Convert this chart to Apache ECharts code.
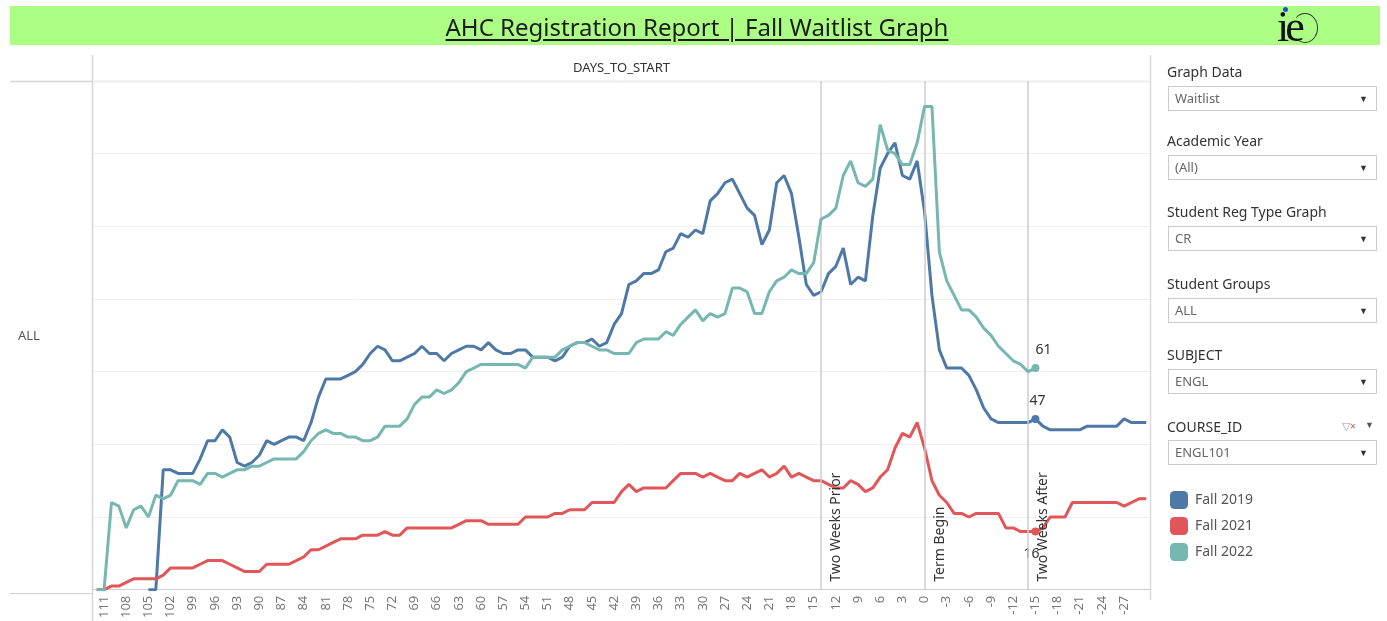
<!DOCTYPE html>
<html lang="en">
<head>
    <meta charset="utf-8">
    <title>AHC Registration Report | Fall Waitlist Graph</title>
    <script src="https://cdn.jsdelivr.net/npm/echarts@6.0.0/dist/echarts.min.js"></script>
    <style type="text/css">
        html, body { margin: 0; padding: 0; background: #fff; }
        body { width: 1387px; height: 621px; position: relative; overflow: hidden;
               font-family: "Noto Sans", "Open Sans", sans-serif; }
        #container { position: absolute; left: 0; top: 0; width: 1387px; height: 621px; }
        .banner { position: absolute; left: 10px; top: 6px; width: 1370px; height: 39px; background: #abfd84; }
        .banner .ttl { position: absolute; left: 0; top: 0; width: 1374px; text-align: center;
                       line-height: 42px; font-size: 24px; color: #1c1c1c; text-decoration: underline;
                       text-underline-offset: 3px; }
        .logo { position: absolute; left: 1277px; top: 5px; font-family: "Liberation Serif", "DejaVu Serif", serif;
                font-size: 44px; line-height: 44px; color: #111; letter-spacing: -4px; }
        .logo-ring { position: absolute; left: 1292px; top: 13px; width: 26px; height: 30px; border-radius: 50%;
                     border: 1.5px solid #333; border-left-color: transparent; box-sizing: border-box; }
        .logo-dot { position: absolute; left: 1283px; top: 7px; width: 5px; height: 5px; border-radius: 50%; background: #1e4fd8; }
        .flt-label { position: absolute; left: 1167px; font-size: 14px; line-height: 20px; color: #333; }
        .flt-box { position: absolute; left: 1168px; width: 209px; height: 25px; border: 1px solid #cacaca;
                   box-sizing: border-box; font-size: 13px; line-height: 23px; color: #666; padding-left: 6px; }
        .flt-box span { position: absolute; right: 8px; top: 0; font-size: 9px; color: #333; }
        .flt-icon { position: absolute; left: 1342px; top: 418px; font-size: 11px; color: #999; }
        .flt-icon b { color: #e0483c; font-weight: normal; font-size: 10px; }
        .flt-caret { position: absolute; left: 1365px; top: 418px; font-size: 9px; color: #555; }
    </style>
</head>
<body>
<div id="container"></div>

<div class="banner"><div class="ttl">AHC Registration Report | Fall Waitlist Graph</div></div>
<div class="logo">ie</div>
<div class="logo-ring"></div>
<div class="logo-dot"></div>

<div class="flt-label" style="top:62px;">Graph Data</div>
<div class="flt-box" style="top:86px;">Waitlist<span>&#9660;</span></div>
<div class="flt-label" style="top:131px;">Academic Year</div>
<div class="flt-box" style="top:155px;">(All)<span>&#9660;</span></div>
<div class="flt-label" style="top:202px;">Student Reg Type Graph</div>
<div class="flt-box" style="top:226px;">CR<span>&#9660;</span></div>
<div class="flt-label" style="top:274px;">Student Groups</div>
<div class="flt-box" style="top:298px;">ALL<span>&#9660;</span></div>
<div class="flt-label" style="top:345px;">SUBJECT</div>
<div class="flt-box" style="top:369px;">ENGL<span>&#9660;</span></div>
<div class="flt-label" style="top:417px;">COURSE_ID</div>
<div class="flt-icon">&#9661;<b>&#215;</b></div>
<div class="flt-caret">&#9660;</div>
<div class="flt-box" style="top:440px;">ENGL101<span>&#9660;</span></div>

<script>
    // days to start, 112 down to -30
    var days = [];
    for (var d = 112; d >= -30; d--) days.push(String(d));

    var seriesNames = ['Fall 2019', 'Fall 2021', 'Fall 2022'];
    var seriesColors = ['#4e79a7', '#e15759', '#76b7b2'];

    // Fall 2019 : no data before day 105
    var fall2019 = [null, null, null, null, null, null, null,
        0, 0, 33, 33, 32, 32, 32, 36, 41, 41,
        44, 42, 35, 34, 35, 37, 41, 40, 41, 42,
        42, 41, 46, 53, 58, 58, 58, 59, 60, 62,
        65, 67, 66, 63, 63, 64, 65, 67, 65, 65,
        63, 65, 66, 67, 67, 66, 68, 66, 65, 65,
        66, 66, 64, 64, 64, 63, 64, 67, 68, 68,
        69, 67, 68, 73, 76, 84, 85, 87, 87, 88,
        93, 94, 98, 97, 99, 98, 107, 109, 112, 113,
        109, 105, 103, 95, 99, 112, 114, 109, 97, 84,
        81, 82, 87, 89, 94, 84, 86, 85, 103, 116,
        120, 123, 114, 113, 118, 104, 81, 66, 61, 61,
        61, 59, 55, 50, 47, 46, 46, 46, 46, 46,
        47, 45, 44, 44, 44, 44, 44, 45, 45, 45,
        45, 45, 47, 46, 46, 46];

    var fall2021 = [0, 0, 1, 1, 2, 3, 3, 3, 3, 4,
        6, 6, 6, 6, 7, 8, 8, 8, 7, 6,
        5, 5, 5, 7, 7, 7, 7, 8, 9, 11,
        11, 12, 13, 14, 14, 14, 15, 15, 15, 16,
        15, 15, 17, 17, 17, 17, 17, 17, 17, 18,
        19, 19, 19, 18, 18, 18, 18, 18, 20, 20,
        20, 20, 21, 21, 22, 22, 22, 24, 24, 24,
        24, 27, 29, 27, 28, 28, 28, 28, 30, 32,
        32, 32, 31, 32, 31, 30, 30, 32, 31, 32,
        33, 31, 32, 34, 31, 32, 31, 30, 30, 29,
        28, 28, 30, 29, 27, 28, 31, 33, 39, 43,
        42, 46, 39, 30, 26, 24, 21, 21, 20, 21,
        21, 21, 21, 17, 17, 16, 16, 16, 17, 20,
        20, 20, 24, 24, 24, 24, 24, 24, 24, 23,
        24, 25, 25];

    // Fall 2022 : data only up to day -15
    var fall2022 = [0, 0, 24, 23, 17, 22, 23, 20, 26, 25,
        26, 30, 30, 30, 29, 32, 32, 31, 32, 33,
        33, 34, 34, 35, 36, 36, 36, 36, 38, 41,
        43, 44, 43, 43, 42, 42, 41, 41, 42, 45,
        45, 45, 47, 51, 53, 53, 55, 54, 55, 57,
        60, 61, 62, 62, 62, 62, 62, 62, 61, 64,
        64, 64, 64, 66, 67, 68, 68, 67, 66, 66,
        65, 65, 65, 68, 69, 69, 69, 71, 70, 73,
        75, 77, 74, 76, 75, 76, 83, 83, 82, 76,
        76, 82, 85, 86, 88, 87, 87, 90, 102, 103,
        105, 114, 118, 112, 111, 113, 128, 121, 120, 117,
        117, 123, 133, 133, 93, 85, 81, 77, 77, 75,
        72, 70, 67, 65, 63, 62, 60, 61,
        null, null, null, null, null, null, null, null, null, null, null, null, null, null, null];

    var refDays = ['14', '0', '-14'];
    var refLabels = ['Two Weeks Prior', 'Term Begin', 'Two Weeks After'];
    var markedDay = '-15';
    var lastLabelledDay = -27;

    var dom = document.getElementById("container");
    var myChart = echarts.init(dom);

    // only the day -15 point gets a marker and a value label
    function withMark(arr, labelPos, labelOffset) {
        var k = days.indexOf(markedDay);
        return arr.map(function (v, i) {
            if (i !== k) return v;
            return {
                value: v,
                symbol: 'circle',
                symbolSize: 8,
                label: { show: true, position: labelPos, offset: labelOffset,
                         color: '#333', fontSize: 14, fontFamily: 'Noto Sans' }
            };
        });
    }

    var allData = [
        withMark(fall2019, 'top', [2, -2]),
        withMark(fall2021, 'bottom', [-4, 6]),
        withMark(fall2022, 'top', [8, -2])
    ];

    var series = seriesNames.map(function (name, i) {
        return {
            name: name,
            type: 'line',
            data: allData[i],
            symbol: 'none',
            showAllSymbol: true,
            connectNulls: false,
            lineStyle: { width: 3, color: seriesColors[i] },
            itemStyle: { color: seriesColors[i] },
            emphasis: { disabled: true },
            z: 3 + i
        };
    });

    series[0].markLine = {
        silent: true,
        symbol: ['none', 'none'],
        lineStyle: { color: '#cdcdcd', width: 1.5, type: 'solid' },
        label: {
            show: true,
            position: 'insideStartBottom',
            formatter: function (p) { return p.name; },
            color: '#333',
            fontSize: 14,
            fontFamily: 'Noto Sans',
            distance: [8, 8]
        },
        data: refDays.map(function (d, i) {
            return { name: refLabels[i], xAxis: d };
        })
    };

    var option = {
        animation: false,
        textStyle: { fontFamily: 'Noto Sans' },
        legend: {
            data: seriesNames,
            orient: 'vertical',
            left: 1170,
            top: 491,
            padding: 0,
            itemWidth: 18,
            itemHeight: 18,
            itemGap: 8,
            icon: 'roundRect',
            textStyle: { color: '#555', fontSize: 14, padding: [0, 0, 0, 2] }
        },
        grid: { left: 93, right: 237, top: 81, bottom: 28, containLabel: false },
        xAxis: {
            type: 'category',
            data: days,
            boundaryGap: true,
            axisLine: { lineStyle: { color: '#d0d0d0', width: 1 } },
            axisTick: { show: false },
            axisLabel: {
                rotate: 90,
                color: '#777',
                fontSize: 13,
                margin: 6,
                interval: function (idx, val) {
                    var n = Number(val);
                    return n % 3 === 0 && n >= lastLabelledDay;
                }
            },
            splitLine: { show: false }
        },
        yAxis: {
            type: 'value',
            min: 0,
            max: 140,
            interval: 20,
            axisLabel: { show: false },
            axisLine: { show: false },
            axisTick: { show: false },
            splitLine: { lineStyle: { color: '#efefef', width: 1 } }
        },
        graphic: [
            { type: 'line', shape: { x1: 10, y1: 81.5, x2: 1150, y2: 81.5 }, style: { stroke: '#d6d6d6', lineWidth: 1.5 }, silent: true },
            { type: 'line', shape: { x1: 10, y1: 593.5, x2: 93, y2: 593.5 }, style: { stroke: '#d0d0d0', lineWidth: 1 }, silent: true },
            { type: 'line', shape: { x1: 92.5, y1: 55, x2: 92.5, y2: 621 }, style: { stroke: '#d6d6d6', lineWidth: 1.5 }, silent: true },
            { type: 'line', shape: { x1: 1150.5, y1: 55, x2: 1150.5, y2: 600 }, style: { stroke: '#dcdcdc', lineWidth: 1.5 }, silent: true },
            { type: 'text', left: 573, top: 62, style: { text: 'DAYS_TO_START', fill: '#333', fontSize: 13, fontFamily: 'Noto Sans' }, silent: true },
            { type: 'text', left: 18, top: 330, style: { text: 'ALL', fill: '#555', fontSize: 13, fontFamily: 'Noto Sans' }, silent: true }
        ],
        series: series
    };

    if (option && typeof option === "object") {
        myChart.setOption(option, true);
    }
</script>
</body>
</html>
